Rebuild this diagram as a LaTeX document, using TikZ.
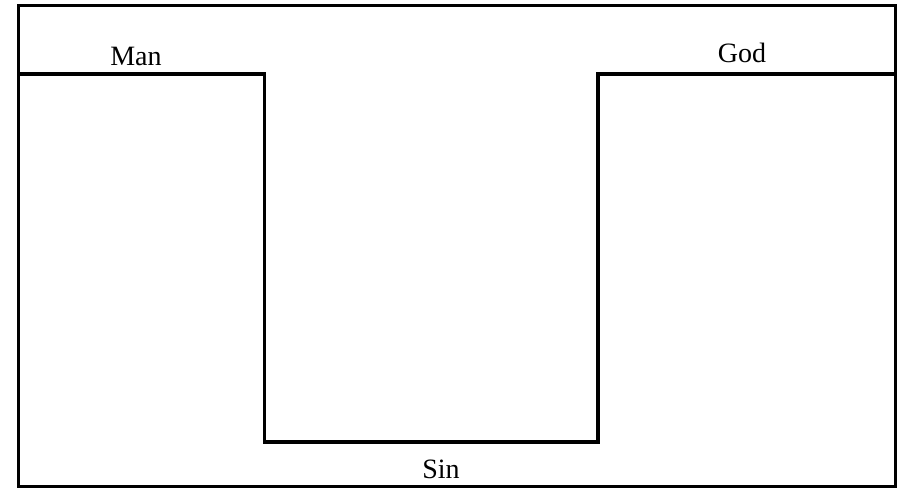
\documentclass[tikz,border=0pt]{standalone}
\usepackage{fontspec}
\setmainfont{Liberation Serif}
\begin{document}
\begin{tikzpicture}[x=1pt,y=-1pt,
  frame/.style={line width=3pt,draw=black},
  gap/.style={line width=3.2pt,draw=black,line join=miter},
  lbl/.style={font=\fontsize{28}{32}\selectfont,anchor=base,inner sep=0pt}]
\useasboundingbox (0,0) rectangle (901,487);
\coordinate (tl) at (18.5,6);
\coordinate (br) at (895,486.5);
\draw[frame] (tl) rectangle (br);
\coordinate (a) at (18.5,74);
\coordinate (b) at (264.5,74);
\coordinate (c) at (264.5,442);
\coordinate (d) at (598,442);
\coordinate (e) at (598,74);
\coordinate (f) at (895,74);
\draw[gap] (a) -- (b) -- (c) -- (d) -- (e) -- (f);
\node[lbl] (man) at (136,65) {Man};
\node[lbl] (god) at (742,63) {God};
\node[lbl] (sin) at (441,478) {Sin};
\end{tikzpicture}
\end{document}
